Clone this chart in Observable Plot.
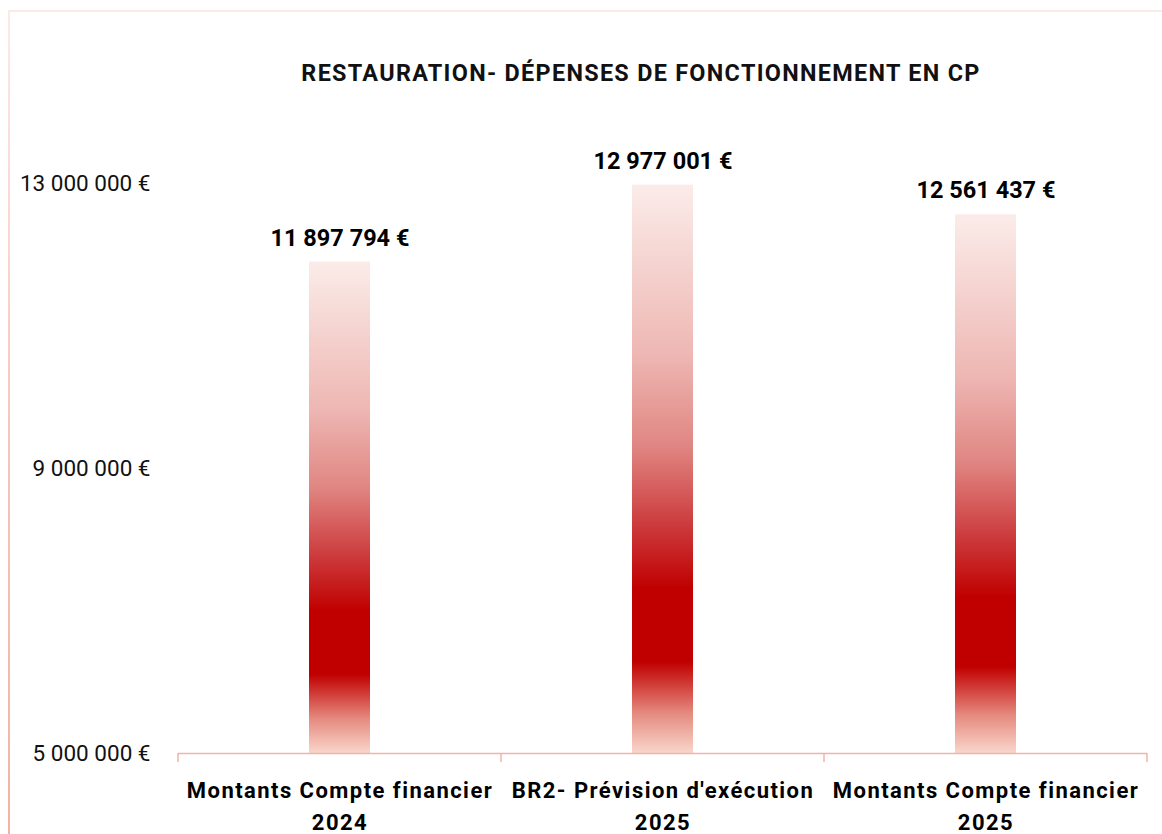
<!DOCTYPE html>
<html>
<head>
<meta charset="utf-8">
<script src="https://cdn.jsdelivr.net/npm/d3@7"></script>
<script src="https://cdn.jsdelivr.net/npm/@observablehq/plot@0.6"></script>
<style>
  html, body { margin: 0; padding: 0; background: #fff; }
  #wrap { position: relative; width: 1162px; height: 834px; overflow: hidden; }
  #topline { position: absolute; left: 9px; top: 10px; width: 1160px; height: 2px; background: #FCEAE6; }
  #leftline { position: absolute; left: 8px; top: 10px; width: 2px; height: 830px;
    background: linear-gradient(to bottom, #FCEAE6, #F6C3B8 55%, #F3B2A4); }
  #chart { position: absolute; left: 0; top: 0; }
  svg { font-family: Roboto, "Liberation Sans", sans-serif; }
  svg g[font-size="23.4"] text { letter-spacing: 1.3px; }
  svg g[font-size="22"] text { letter-spacing: 1.45px; }
</style>
</head>
<body>
<div id="wrap">
  <div id="topline"></div>
  <div id="leftline"></div>
  <div id="chart"></div>
</div>
<script>
const title = "RESTAURATION- DÉPENSES DE FONCTIONNEMENT EN CP";
const categories = [
  "Montants Compte financier\n2024",
  "BR2- Prévision d'exécution\n2025",
  "Montants Compte financier\n2025"
];
const values = [11897794, 12977001, 12561437];
const yTicks = [5000000, 9000000, 13000000];

const fmt = v => d3.format(",")(v).replace(/,/g, " ") + " €";
const data = categories.map((c, i) => ({cat: c, value: values[i]}));

function gradientDefs() {
  const defs = d3.create("svg:defs");
  const g = defs.append("linearGradient")
    .attr("id", "barGrad").attr("x1", 0).attr("x2", 0).attr("y1", 0).attr("y2", 1);
  [[0, "#FBECE9"], [0.3, "#EEB7B3"], [0.46, "#E08682"], [0.6, "#CC3A3C"],
   [0.71, "#C00000"], [0.84, "#C00000"], [0.93, "#E58A7F"], [1, "#F9D6CB"]]
    .forEach(([o, c]) => g.append("stop").attr("offset", o).attr("stop-color", c));
  return defs.node();
}

function xAxisLine(index, scales, values, dims) {
  const x = scales.x, y = scales.y;
  const y0 = y(yTicks[0]);
  const gEl = d3.create("svg:g").attr("stroke", "#F3B4A6").attr("stroke-width", 1.5).attr("fill", "none");
  const left = x(categories[0]);
  const right = x(categories[categories.length - 1]) + x.bandwidth();
  gEl.append("line").attr("x1", left).attr("x2", right).attr("y1", y0 + 0.5).attr("y2", y0 + 0.5);
  const edges = categories.map(c => x(c)).concat([right]);
  edges.forEach(e => gEl.append("line").attr("x1", e).attr("x2", e).attr("y1", y0).attr("y2", y0 + 9));
  return gEl.node();
}

const chart = Plot.plot({
  width: 1162,
  height: 834,
  marginLeft: 177,
  marginRight: 14,
  marginTop: 183,
  marginBottom: 81,
  x: {domain: categories, padding: 0, axis: null},
  y: {domain: [yTicks[0], yTicks[2]], axis: null},
  marks: [
    gradientDefs,
    Plot.axisY(yTicks, {tickSize: 0, tickPadding: 27, tickFormat: fmt, fontSize: 22.5, fill: "#111", label: null}),
    Plot.barY(data, {x: "cat", y1: () => yTicks[0], y2: "value", fill: "url(#barGrad)", insetLeft: 131, insetRight: 131}),
    xAxisLine,
    Plot.text(data, {x: "cat", y: "value", text: d => fmt(d.value), dy: -24, fontSize: 23.5, fontWeight: "bold", fill: "#000"}),
    Plot.text(data, {x: "cat", y: () => yTicks[0], text: "cat", lineAnchor: "middle", dy: 50, lineHeight: 1.45, fontSize: 22, fontWeight: "bold", fill: "#000"}),
    Plot.text([title], {frameAnchor: "top", dy: -119, dx: -22, text: d => d, fontSize: 23.4, fontWeight: "bold", fill: "#111"})
  ]
});
document.getElementById("chart").appendChild(chart);
</script>
</body>
</html>
